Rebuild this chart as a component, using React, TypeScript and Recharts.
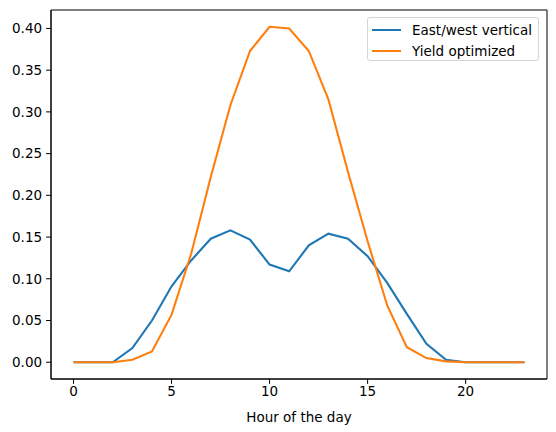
import React from "react";
import { LineChart, Line, XAxis, YAxis, Legend, ReferenceArea, Label } from "recharts";

const hours = [0, 1, 2, 3, 4, 5, 6, 7, 8, 9, 10, 11, 12, 13, 14, 15, 16, 17, 18, 19, 20, 21, 22, 23];
const eastWest = [0, 0, 0, 0.017, 0.05, 0.091, 0.122, 0.148, 0.158, 0.147, 0.117, 0.109, 0.14, 0.154, 0.148, 0.127, 0.095, 0.058, 0.022, 0.003, 0, 0, 0, 0];
const yieldOpt = [0, 0, 0, 0.003, 0.013, 0.057, 0.13, 0.222, 0.308, 0.373, 0.402, 0.4, 0.373, 0.315, 0.228, 0.145, 0.068, 0.018, 0.005, 0.001, 0, 0, 0, 0];
const xTicks = [0, 5, 10, 15, 20];
const yTicks = [0, 0.05, 0.1, 0.15, 0.2, 0.25, 0.3, 0.35, 0.4];
const seriesNames = ["East/west vertical", "Yield optimized"];
const colors = ["#1f77b4", "#ff7f0e"];

const data = hours.map((h, i) => ({ hour: h, ew: eastWest[i], yo: yieldOpt[i] }));

const X_DOMAIN: [number, number] = [-1.15, 24.15];
const Y_DOMAIN: [number, number] = [-0.0201, 0.4221];

const FONT = "'DejaVu Sans', sans-serif";

const LegendBox = () => (
  <div
    style={{
      width: 172,
      height: 44,
      border: "1px solid #d4d4d4",
      borderRadius: 3,
      background: "rgba(255,255,255,0.8)",
      boxSizing: "border-box",
      position: "relative",
      fontFamily: FONT,
      fontSize: 13.5,
      color: "#000",
    }}
  >
    {seriesNames.map((n, i) => (
      <div key={n} style={{ position: "absolute", left: 4, top: 3 + i * 21, height: 18, display: "flex", alignItems: "center" }}>
        <div style={{ width: 29, height: 2, background: colors[i] }} />
        <span style={{ marginLeft: 11, whiteSpace: "nowrap" }}>{n}</span>
      </div>
    ))}
  </div>
);

export default function App() {
  return (
    <div style={{ position: "absolute", left: 0, top: 0, width: 556, height: 432, background: "#fff", fontFamily: FONT }}>
      <LineChart width={556} height={432} data={data} margin={{ top: 10, right: 9, bottom: 0, left: 6 }}>
        <XAxis
          dataKey="hour"
          type="number"
          domain={X_DOMAIN}
          ticks={xTicks}
          allowDataOverflow
          height={53}
          tickSize={4.9}
          tickMargin={3}
          axisLine={{ stroke: "#000", strokeWidth: 1 }}
          tickLine={{ stroke: "#000", strokeWidth: 1 }}
          tick={{ fill: "#000", fontSize: 13.5, fontFamily: FONT }}
        >
          <Label value="Hour of the day" position="insideBottom" offset={10} style={{ fill: "#000", fontSize: 13.5, fontFamily: FONT }} />
        </XAxis>
        <YAxis
          type="number"
          domain={Y_DOMAIN}
          ticks={yTicks}
          allowDataOverflow
          width={45}
          tickSize={4.9}
          tickMargin={4}
          tickFormatter={(v: number) => v.toFixed(2)}
          axisLine={{ stroke: "#000", strokeWidth: 1 }}
          tickLine={{ stroke: "#000", strokeWidth: 1 }}
          tick={{ fill: "#000", fontSize: 13.5, fontFamily: FONT }}
        />
        <ReferenceArea x1={X_DOMAIN[0]} x2={X_DOMAIN[1]} y1={Y_DOMAIN[0]} y2={Y_DOMAIN[1]} fill="none" fillOpacity={0} stroke="#000" strokeWidth={1} ifOverflow="extendDomain" />
        <Line dataKey="ew" name={seriesNames[0]} stroke={colors[0]} strokeWidth={2.1} dot={false} isAnimationActive={false} />
        <Line dataKey="yo" name={seriesNames[1]} stroke={colors[1]} strokeWidth={2.1} dot={false} isAnimationActive={false} />
        <Legend
          layout="vertical"
          align="center"
          verticalAlign="middle"
          content={<LegendBox />}
          wrapperStyle={{ position: "absolute", left: 367, top: 17, width: 172, height: 44 }}
        />
      </LineChart>
    </div>
  );
}
